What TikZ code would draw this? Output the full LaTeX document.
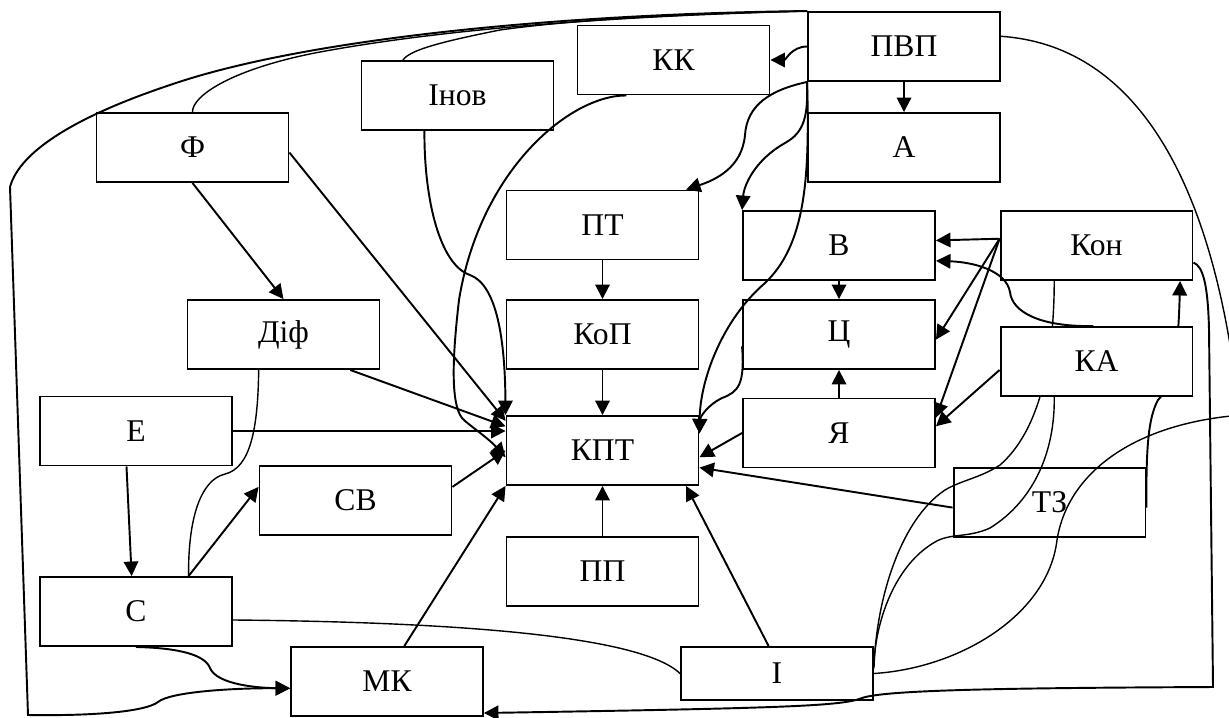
\documentclass[tikz,border=0pt]{standalone}
\usepackage{fontspec}
\setmainfont{Liberation Serif}
\usetikzlibrary{arrows.meta,backgrounds}
\begin{document}
\begin{tikzpicture}[x=0.02cm,y=-0.02cm,
  box/.style={draw,line width=1.1pt,minimum width=3.84cm,minimum height=1.38cm,inner sep=0pt,font=\fontsize{18}{21}\selectfont},
  arr/.style={line width=1.1pt,-{Triangle[length=0.29cm,width=0.29cm]}},
  link/.style={line width=0.8pt}]
\useasboundingbox (0,0) rectangle (1229,717);
\node[box] (PVP) at (904,46.5) {ПВП};
\node[box] (KK) at (673.5,60) {КК};
\node[box] (Inov) at (457.5,95.5) {Інов};
\node[box] (F) at (192.5,147.5) {Ф};
\node[box] (A) at (904,147.5) {А};
\node[box] (PT) at (602.5,225) {ПТ};
\node[box] (V) at (839,245.5) {В};
\node[box] (Kon) at (1096.5,245.5) {Кон};
\node[box] (Dif) at (283.5,334.5) {Діф};
\node[box] (KoP) at (602.5,334.5) {КоП};
\node[box] (Ts) at (839,334.5) {Ц};
\node[box,fill=white] (KA) at (1096.5,361.5) {КА};
\node[box] (E) at (136,431) {Е};
\node[box] (KPT) at (602.5,450.5) {КПТ};
\node[box] (Ya) at (839,433) {Я};
\node[box] (SV) at (355.5,500.5) {СВ};
\node[box] (TZ) at (1049.5,502.5) {ТЗ};
\node[box] (PP) at (602.5,571.5) {ПП};
\node[box] (S) at (136,611.5) {С};
\node[box] (MK) at (387,681.5) {МК};
\node[box,minimum height=1.06cm] (I) at (777,673.5) {І};
\coordinate (offA) at (1240,420);
\coordinate (offB) at (1260,414);

\begin{pgfonlayer}{background}
\clip (0,0) rectangle (1229,717);
\draw[arr] (PVP.south) -- (A.north);
\draw[arr] (PT.south) -- (KoP.north);
\draw[arr] (KoP.south) -- (KPT.north);
\draw[arr] (PP.north) -- (KPT.south);
\draw[arr] (V.south) -- (Ts.north);
\draw[arr] (Ya.north) -- (Ts.south);
\draw[arr] (F.south) -- (Dif.north);
\draw[arr] (F.-3) -- (KPT.163);
\draw[arr] (Dif.-28) -- (KPT.166);
\draw[arr] (E.east) -- (E.east -| KPT.west);
\draw[arr] (SV.8) -- (KPT.west);
\draw[arr] (E.-105) -- (S.97);
\draw[arr] (S.34) -- (SV.172);
\draw[arr] (MK.64) -- (KPT.south west);
\draw[arr] (I.107) -- (KPT.-23);
\draw[arr] (Ya.west) -- (KPT.-4);
\draw[arr] (TZ.183) -- (KPT.-10);
\draw[arr] (Kon.176) -- (V.3);
\draw[arr] (Kon.176) -- (Ts.-3);
\draw[arr] (Kon.176) -- (Ya.9);
\draw[arr] (KA.185) -- (Ya.4);

\draw[arr] (PVP.west) to[out=180,in=0] (KK.east);
\draw[arr] (PVP.south west) .. controls (770,90) and (747,105) .. (745,135) .. controls (742,168) and (715,180) .. (PT.23);
\draw[arr] (PVP.south west) .. controls (808,115) and (805,132) .. (785,143) .. controls (755,160) and (744,185) .. (V.north west);
\draw[arr] (PVP.south west) .. controls (810,180) and (805,245) .. (765,283) .. controls (722,320) and (700,380) .. (KPT.10);
\draw[arr] (Ts.187) .. controls (745,385) and (738,392) .. (722,398) .. controls (706,406) and (700,418) .. (KPT.10);
\draw[arr] (Inov.227) .. controls (424,200) and (440,265) .. (470,275) .. controls (497,285) and (505,340) .. (KPT.north west);
\draw[arr] (KK.217) .. controls (570,95) and (480,170) .. (459,300) .. controls (452,360) and (450,410) .. (465,421) .. controls (476,430) and (490,440) .. (KPT.184);
\draw[arr] (KA.95) .. controls (1040,327) and (1012,312) .. (1010,292) .. controls (1006,270) and (972,262) .. (V.-9);
\draw[arr] (TZ.-3) .. controls (1146,450) and (1148,418) .. (1158,400) .. controls (1172,385) and (1178,360) .. (Kon.-23);
\draw[arr] (Kon.-10) .. controls (1203,266) and (1208,285) .. (1209,330) -- (1213,687) .. controls (1000,688) and (885,690) .. (862,698) .. controls (842,706) and (790,708) .. (MK.-18);
\draw[arr] (PVP.north west) .. controls (550,14) and (300,40) .. (170,85) .. controls (80,115) and (20,150) .. (10,187) -- (28,715) .. controls (90,716) and (145,712) .. (158,702) .. controls (170,692) and (230,688) .. (MK.184);
\draw[arr] (S.south) .. controls (180,648) and (205,655) .. (210,668) .. controls (217,685) and (260,688) .. (MK.184);

\draw[link] (F.north) .. controls (192,95) and (235,68) .. (320,52) .. controls (450,28) and (620,16) .. (PVP.north west);
\draw[link] (Inov.147) .. controls (410,50) and (440,42) .. (500,30) .. controls (570,20) and (680,14) .. (PVP.north west);
\draw[link] (Dif.-125) .. controls (258,430) and (250,468) .. (225,474) .. controls (200,480) and (188,520) .. (S.34);
\draw[link] (S.-5) .. controls (450,622) and (640,635) .. (I.west);
\draw[link] (Kon.-140) .. controls (1054,360) and (1040,430) .. (1000,465) .. controls (980,478) and (962,480) .. (945,490) .. controls (900,520) and (876,600) .. (I.3);
\draw[link] (KA.-140) .. controls (1055,450) and (1035,500) .. (990,528) .. controls (968,538) and (950,533) .. (935,542) .. controls (895,565) and (876,620) .. (I.6);
\draw[link] (PVP.6) .. controls (1130,45) and (1215,170) .. (offA);
\draw[link] (offB) .. controls (1140,418) and (1068,470) .. (1057,540) .. controls (1048,615) and (960,668) .. (I.east);
\end{pgfonlayer}
\end{tikzpicture}
\end{document}
